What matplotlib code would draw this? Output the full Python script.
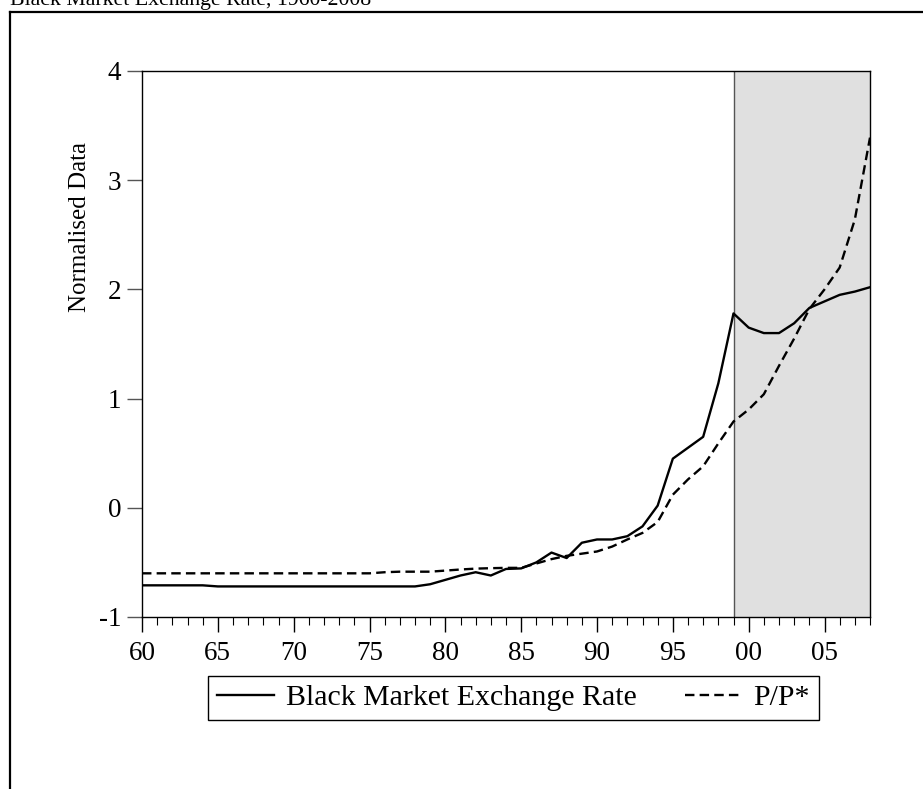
import matplotlib
matplotlib.use("Agg")
import matplotlib.pyplot as plt
from matplotlib.lines import Line2D
import numpy as np

years = list(range(1960, 2009))
black_market = [-0.71, -0.71, -0.71, -0.71, -0.71, -0.72, -0.72, -0.72, -0.72, -0.72,
                 -0.72, -0.72, -0.72, -0.72, -0.72, -0.72, -0.72, -0.72, -0.72, -0.70,
                 -0.66, -0.62, -0.59, -0.62, -0.56, -0.555, -0.50, -0.41, -0.46, -0.32,
                 -0.29, -0.29, -0.26, -0.17, 0.02, 0.45, 0.55, 0.65, 1.14, 1.78,
                 1.65, 1.60, 1.60, 1.69, 1.83, 1.89, 1.95, 1.98, 2.02]
p_pstar = [-0.60, -0.60, -0.60, -0.60, -0.60, -0.60, -0.60, -0.60, -0.60, -0.60,
           -0.60, -0.60, -0.60, -0.60, -0.60, -0.60, -0.59, -0.585, -0.585, -0.585,
           -0.575, -0.565, -0.557, -0.553, -0.55, -0.55, -0.51, -0.47, -0.44, -0.42,
           -0.40, -0.355, -0.29, -0.23, -0.13, 0.12, 0.26, 0.38, 0.59, 0.79,
           0.90, 1.04, 1.30, 1.55, 1.82, 2.00, 2.20, 2.64, 3.39]
shade_start, shade_end = 1999, 2008
xtick_years = [1960, 1965, 1970, 1975, 1980, 1985, 1990, 1995, 2000, 2005]
xtick_labels = ['60', '65', '70', '75', '80', '85', '90', '95', '00', '05']
yticks = [-1, 0, 1, 2, 3, 4]

plt.rcParams['font.family'] = ['Liberation Serif', 'DejaVu Serif']

W, H = 923, 789
fig = plt.figure(figsize=(W / 100, H / 100), dpi=100)
ax = fig.add_axes([142 / W, 1 - 617 / H, (870 - 142) / W, (617 - 71) / H])

ax.axvspan(shade_start, shade_end, color='#e0e0e0', zorder=0, lw=0)
ax.axvline(shade_start, color='#555555', lw=1.0, zorder=1)

ax.plot(years, black_market, color='black', lw=1.7, label='Black Market Exchange Rate', zorder=3)
ax.plot(years, p_pstar, color='black', lw=1.7, ls=(0, (4, 2.2)), label='P/P*', zorder=3)

ax.set_xlim(1960, 2008)
ax.set_ylim(-1, 4)
ax.set_xticks(xtick_years)
ax.set_xticklabels(xtick_labels)
ax.set_xticks(years, minor=True)
ax.set_yticks(yticks)
ax.set_yticklabels([str(v) for v in yticks])
ax.tick_params(axis='x', which='major', direction='out', length=11, width=1, labelsize=19.5, pad=6)
ax.tick_params(axis='x', which='minor', direction='out', length=6, width=0.8)
ax.tick_params(axis='y', which='major', direction='out', length=11, width=1, labelsize=19.5, pad=4, color='#555555')
for s in ax.spines.values():
    s.set_linewidth(1.0)

ax.set_ylabel('Normalised Data', fontsize=18)
ax.yaxis.set_label_coords(-0.070, 0.714)

leg = fig.legend(loc='center', bbox_to_anchor=(513.5 / W, 1 - 698 / H), ncol=2,
                 fontsize=21.5, handlelength=1.9, columnspacing=1.6, handletextpad=0.4,
                 fancybox=False, edgecolor='black', framealpha=1, borderpad=0.3,
                 borderaxespad=0)
leg.get_frame().set_linewidth(1.0)

fig.text(10 / W, 1 - 5 / H, 'Black Market Exchange Rate, 1960-2008', fontsize=15.7,
         ha='left', va='baseline')

y_top = 1 - 11.5 / H
x_left = 9.5 / W
fig.add_artist(Line2D([x_left, x_left], [0, y_top], color='black', lw=1.6, transform=fig.transFigure))
fig.add_artist(Line2D([x_left, 1], [y_top, y_top], color='black', lw=1.6, transform=fig.transFigure))

fig.savefig('out.png', dpi=100)
